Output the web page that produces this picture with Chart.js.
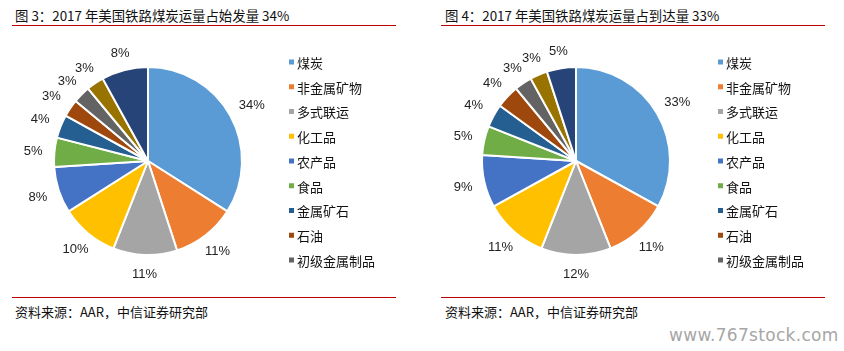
<!DOCTYPE html>
<html>
<head>
<meta charset="utf-8">
<script src="https://cdn.jsdelivr.net/npm/chart.js@4/dist/chart.umd.min.js"></script>
<style>
    body { margin: 0; width: 844px; height: 351px; background: #fff; position: relative; overflow: hidden;
           font-family: "Noto Sans CJK SC", sans-serif; }
    .title { position: absolute; top: 5px; font-size: 13.4px; line-height: 20px; color: #111; white-space: nowrap; }
    .rule { position: absolute; height: 1px; background: #c00000; }
    .source { position: absolute; top: 302px; font-size: 13px; line-height: 20px; color: #111; white-space: nowrap; }
    .mark { position: absolute; left: 669px; top: 325px; font-family: "DejaVu Sans", sans-serif; font-size: 17px;
            color: #a6a6a6; letter-spacing: 0.3px; }
    .pane { position: absolute; top: 30px; width: 422px; height: 262px; }
</style>
</head>
<body>
<div class="title" style="left:15px">图 3：2017 年美国铁路煤炭运量占始发量 34%</div>
<div class="rule" style="left:12px;width:384px;top:25px"></div>
<div class="title" style="left:445px">图 4：2017 年美国铁路煤炭运量占到达量 33%</div>
<div class="rule" style="left:441px;width:384px;top:25px"></div>

<div class="pane" style="left:0"><canvas id="origin"></canvas></div>
<div class="pane" style="left:422px"><canvas id="dest"></canvas></div>

<div class="rule" style="left:12px;width:384px;top:297px"></div>
<div class="source" style="left:15px">资料来源：AAR，中信证券研究部</div>
<div class="rule" style="left:441px;width:384px;top:297px"></div>
<div class="source" style="left:445px">资料来源：AAR，中信证券研究部</div>
<div class="mark">www.767stock.com</div>

<script>
    // categories (last two are cut off from the legend in the original)
    var categories = ['煤炭', '非金属矿物', '多式联运', '化工品', '农产品', '食品', '金属矿石', '石油', '初级金属制品', '汽车及零部件', '其他'];
    var originShare = [34, 11, 11, 10, 8, 5, 4, 3, 3, 3, 8];
    var destShare = [33, 11, 12, 11, 9, 5, 4, 4, 3, 3, 5];
    var legendShown = 9;

    var colors = ['#5b9bd5', '#ed7d31', '#a5a5a5', '#ffc000', '#4472c4', '#70ad47',
                  '#255e91', '#9e480e', '#636363', '#997300', '#264478'];

    // percent labels just outside each slice
    var outsideLabels = {
        id: 'outsideLabels',
        afterDatasetsDraw: function (chart) {
            var ctx = chart.ctx;
            var values = chart.data.datasets[0].data;
            ctx.save();
            ctx.font = '13px "Liberation Sans", Arial, sans-serif';
            ctx.fillStyle = '#222';
            ctx.textAlign = 'center';
            ctx.textBaseline = 'middle';
            chart.getDatasetMeta(0).data.forEach(function (arc, i) {
                var p = arc.getProps(['x', 'y', 'startAngle', 'endAngle', 'outerRadius'], true);
                var mid = (p.startAngle + p.endAngle) / 2;
                var dx = Math.cos(mid), dy = Math.sin(mid);
                var text = values[i] + '%';
                var w = ctx.measureText(text).width, h = 12;
                var ext = Math.min(w / 2 / Math.max(Math.abs(dx), 1e-6), h / 2 / Math.max(Math.abs(dy), 1e-6));
                var d = p.outerRadius + 12 + ext;
                ctx.fillText(text, p.x + dx * d, p.y + dy * d + 1);
            });
            ctx.restore();
        }
    };

    // vertical legend on the right, first nine entries only
    var sideLegend = {
        id: 'sideLegend',
        afterDraw: function (chart, args, opts) {
            var ctx = chart.ctx;
            ctx.save();
            ctx.font = '13px "Noto Sans CJK SC", sans-serif';
            ctx.textBaseline = 'middle';
            for (var i = 0; i < legendShown; i++) {
                var y = 32 + i * 24.75;
                ctx.fillStyle = colors[i];
                ctx.fillRect(opts.x, y - 2.5, 5, 5);
                ctx.fillStyle = '#111';
                ctx.fillText(chart.data.labels[i], opts.x + 8, y + 1);
            }
            ctx.restore();
        }
    };

    function makePie(id, values, padLeft, legendX) {
        var ctx = document.getElementById(id).getContext('2d');
        return new Chart(ctx, {
            type: 'pie',
            data: {
                labels: categories,
                datasets: [{
                    data: values,
                    backgroundColor: colors,
                    borderColor: '#fff',
                    borderWidth: 2
                }]
            },
            options: {
                responsive: true,
                maintainAspectRatio: false,
                animation: false,
                layout: { padding: { left: padLeft, right: 422 - padLeft - 190, top: 36, bottom: 36 } },
                plugins: {
                    legend: { display: false },
                    tooltip: { enabled: false },
                    sideLegend: { x: legendX }
                }
            },
            plugins: [outsideLabels, sideLegend]
        });
    }

    makePie('origin', originShare, 53, 289);
    makePie('dest', destShare, 59, 296);
</script>
</body>
</html>
